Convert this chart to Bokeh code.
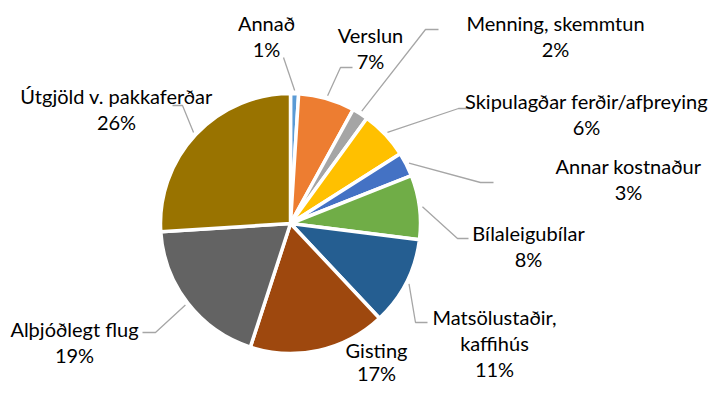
import math
from bokeh.plotting import figure
from bokeh.models import Range1d, ColumnDataSource
from bokeh.core.properties import value
from bokeh.embed import file_html
from bokeh.resources import INLINE

# ---- data ----
categories = ["Annað", "Verslun", "Menning, skemmtun", "Skipulagðar ferðir/afþreying",
              "Annar kostnaður", "Bílaleigubílar", "Matsölustaðir, kaffihús", "Gisting",
              "Alþjóðlegt flug", "Útgjöld v. pakkaferðar"]
shares = [1, 7, 2, 6, 3, 8, 11, 17, 19, 26]
label_lines = [["Annað"], ["Verslun"], ["Menning, skemmtun"], ["Skipulagðar ferðir/afþreying"],
               ["Annar kostnaður"], ["Bílaleigubílar"], ["Matsölustaðir,", "kaffihús"], ["Gisting"],
               ["Alþjóðlegt flug"], ["Útgjöld v. pakkaferðar"]]
colors = ["#5B9BD5", "#ED7D31", "#A5A5A5", "#FFC000", "#4472C4", "#70AD47",
          "#255E91", "#9E480E", "#636363", "#997300"]

# ---- layout (picture pixel positions) ----
W, H = 710, 384
CX, CY, R = 290, 223, 130
# label centre x, first-line centre y, line spacing, leader polyline points after the slice edge
label_pos = [
    (266, 22, 26, [(283, 57)]),
    (370, 34, 26, [(340, 67), (352, 67)]),
    (555, 22, 26, [(425, 29), (438, 29)]),
    (586, 100, 26, [(458, 108), (470, 108)]),
    (628, 165, 26, [(480, 182), (493, 182)]),
    (528, 232, 26, [(457, 238), (468, 238)]),
    (494, 316, 26, [(415, 322), (427, 322)]),
    (376, 349, 23, []),
    (74, 328, 26, [(155, 332), (142, 332)]),
    (116, 95, 26, [(182, 105), (172, 105)]),
]

def px(x):
    return x

def py(y):
    return H - y

p = figure(width=W, height=H, output_backend="svg", toolbar_location=None,
           x_range=Range1d(0, W), y_range=Range1d(0, H), min_border=0)
p.axis.visible = False
p.grid.visible = False
p.outline_line_color = None
p.background_fill_color = "white"

total = sum(shares)
starts, ends, mids = [], [], []
acc = 0.0
for s in shares:
    a0 = acc / total * 2 * math.pi
    acc += s
    a1 = acc / total * 2 * math.pi
    starts.append(math.pi / 2 - a0)
    ends.append(math.pi / 2 - a1)
    mids.append((a0 + a1) / 2)

src = ColumnDataSource(dict(start=starts, end=ends, color=colors))
p.wedge(x=px(CX), y=py(CY), radius=R, start_angle="start", end_angle="end",
        direction="clock", fill_color="color", line_color="white", line_width=3.5,
        source=src)

# leader lines
for m, (lx, ly, lh, pts) in zip(mids, label_pos):
    if not pts:
        continue
    sx = CX + (R + 3) * math.sin(m)
    sy = CY - (R + 3) * math.cos(m)
    xs = [px(sx)] + [px(a) for a, b in pts]
    ys = [py(sy)] + [py(b) for a, b in pts]
    p.line(xs, ys, line_color="#A6A6A6", line_width=1.3)

# labels
tx, ty, tt = [], [], []
for lines, s, (lx, ly, lh, pts) in zip(label_lines, shares, label_pos):
    allines = lines + [f"{s}%"]
    for i, t in enumerate(allines):
        tx.append(px(lx))
        ty.append(py(ly + i * lh))
        tt.append(t)
p.text(x=tx, y=ty, text=tt, text_align="center", text_baseline="middle",
       text_font=value("Lato"), text_font_size="20px", text_color="#000000")

open("out.html", "w").write(file_html(p, INLINE))
